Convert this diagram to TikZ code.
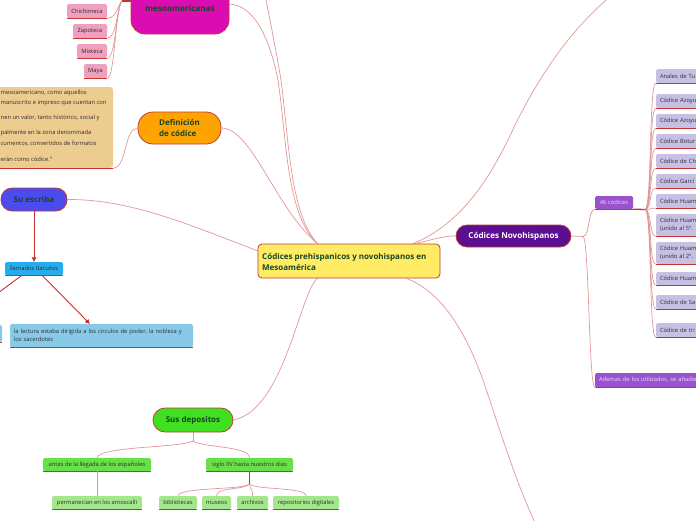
\documentclass[tikz,border=0pt]{standalone}
\usepackage{fontspec}
\setmainfont{Open Sans}
\usetikzlibrary{arrows.meta,calc}
\definecolor{cmag}{RGB}{218,12,178}
\definecolor{cpink}{RGB}{238,160,190}
\definecolor{ctan}{RGB}{237,204,143}
\definecolor{corange}{RGB}{255,163,0}
\definecolor{cyellow}{RGB}{255,236,100}
\definecolor{cblue}{RGB}{76,76,238}
\definecolor{ccyan}{RGB}{38,172,236}
\definecolor{clblue}{RGB}{137,201,232}
\definecolor{cgreen}{RGB}{64,224,32}
\definecolor{cgreentwo}{RGB}{104,224,72}
\definecolor{clgreen}{RGB}{164,230,140}
\definecolor{cdpurple}{RGB}{92,14,146}
\definecolor{cmpurple}{RGB}{154,82,206}
\definecolor{clav}{RGB}{198,192,228}
\definecolor{cborder}{RGB}{190,60,60}
\definecolor{cdred}{RGB}{196,50,50}
\definecolor{clred}{RGB}{226,150,150}
\definecolor{ctgreen}{RGB}{22,70,36}
\definecolor{ctext}{RGB}{45,45,45}
\definecolor{clighttext}{RGB}{235,220,250}
\newcommand{\mmbig}{\fontsize{8}{11}\selectfont\bfseries}
\newcommand{\mmbigm}{\fontsize{8.2}{11}\selectfont\bfseries}
\newcommand{\mmsmall}{\fontsize{5.8}{8.2}\selectfont}
\tikzset{
 conn/.style={draw=clred, line width=0.7pt},
 hubl/.style={draw=cdred, line width=1.3pt},
 ul/.style={draw=cdred, line width=1pt},
 bignode/.style={draw=cborder, line width=0.8pt, rounded corners=11pt, inner sep=0pt, font=\mmbig, text=ctgreen},
 smallnode/.style={rounded corners=1.5pt, inner ysep=0pt, inner xsep=2pt, font=\mmsmall, text=ctext},
 cx/.style={smallnode, fill=clav, minimum width=88pt, text width=80pt, align=left},
 arr/.style={draw=cdred, line width=0.9pt, -{Triangle[length=4.5pt,width=4.5pt]}},
}
\begin{document}
\begin{tikzpicture}[x=1pt,y=-1pt]
\useasboundingbox (0,0) rectangle (696,520);
\clip (0,0) rectangle (696,520);

% ---------- root ----------
\node[draw=cborder, line width=0.8pt, fill=cyellow, rounded corners=4pt, minimum width=182pt, minimum height=34pt, inner sep=0pt] (root) at (349,261) {};
\node[anchor=west, font=\mmbig, text=ctgreen, align=left, inner sep=0pt] (roott) at (262,261.5) {Códices prehispanicos y novohispanos en\\Mesoamérica};

% ---------- top left: mesoamericanas ----------
\node[bignode, fill=cmag, minimum width=98pt, minimum height=52pt, rounded corners=14pt, font=\mmbigm] (meso) at (180,8) {mesoamericanas};
\node[smallnode, fill=cpink, minimum width=40pt, minimum height=14pt] (chi) at (87,11) {Chichimeca};
\node[smallnode, fill=cpink, minimum width=34pt, minimum height=14pt] (zap) at (90,31) {Zapoteca};
\node[smallnode, fill=cpink, minimum width=30pt, minimum height=14pt] (mix) at (92,51) {Mixteca};
\node[smallnode, fill=cpink, minimum width=23pt, minimum height=14pt] (may) at (95.5,71) {Maya};
\foreach \n in {chi,zap,mix,may} {\draw[ul] (\n.south west) -- (\n.south east);}
\coordinate (hm) at (122,1);
\draw[conn] (chi.south east) .. controls (117,18) and (118,4) .. (hm);
\draw[conn] (zap.south east) .. controls (117,38) and (117,6) .. (hm);
\draw[conn] (mix.south east) .. controls (116,58) and (116,8) .. (hm);
\draw[conn] (may.south east) .. controls (115,78) and (115,10) .. (hm);
\draw[hubl] (hm) -- (131,1);

% ---------- definition ----------
\node[fill=ctan, rounded corners=3pt, minimum width=133pt, minimum height=81pt, inner sep=0pt] (defbox) at (46.5,127.5) {};
\draw[ul] (defbox.south west) -- (defbox.south east);
\node[anchor=west, font=\mmsmall, text=ctext, inner sep=0pt] (d1) at (0.5,93) {mesoamericano, como aquellos};
\node[anchor=west, font=\mmsmall, text=ctext, inner sep=0pt] (d2) at (0.5,103) {manuscrito e impreso que cuentan con};
\node[anchor=west, font=\mmsmall, text=ctext, inner sep=0pt] (d3) at (0.5,118) {nen un valor, tanto histórico, social y};
\node[anchor=west, font=\mmsmall, text=ctext, inner sep=0pt] (d4) at (0.5,133) {palmente en la zona denominada};
\node[anchor=west, font=\mmsmall, text=ctext, inner sep=0pt] (d5) at (0.5,143.5) {cumentos, convertidos de formatos};
\node[anchor=west, font=\mmsmall, text=ctext, inner sep=0pt] (d6) at (0.5,159) {erán como códice."};
\node[bignode, fill=corange, minimum width=83pt, minimum height=32pt, rounded corners=15pt, align=left] (defn) at (179.5,128) {Definición\\de códice};
\draw[conn] (defbox.south east) .. controls (127,168) and (124,128) .. (defn.west);

% ---------- Su escriba ----------
\node[bignode, fill=cblue, minimum width=66pt, minimum height=23pt] (esc) at (34,199.5) {Su escriba};
\node[smallnode, fill=ccyan, minimum width=58pt, minimum height=13pt] (tla) at (34,268.5) {llamados tlacuilos};
\draw[ul] (tla.south west) -- (tla.south east);
\node[smallnode, fill=clblue, minimum width=183pt, minimum height=23pt, text width=175pt, align=left] (lect) at (101.5,335.5) {la lectura estaba dirigida a los circulos de poder, la nobleza y\\los sacerdotes};
\draw[ul] (lect.south west) -- (lect.south east);
\node[smallnode, fill=clblue, minimum width=30pt, minimum height=17pt] (offb) at (-13,333.5) {};
\draw[ul] (offb.south west) -- (offb.south east);
\coordinate (offl) at (-45,325);
\draw[arr] (esc.south) -- (tla.north);
\draw[arr] ($(tla.south)+(8,0)$) -- ($(lect.north west)+(80,0)$);
\draw[arr] ($(tla.south)+(-12,0)$) -- (offl);

% ---------- Sus depositos ----------
\node[bignode, fill=cgreen, minimum width=80pt, minimum height=24pt, rounded corners=12pt] (dep) at (193,420) {Sus depositos};
\node[smallnode, fill=cgreentwo, minimum width=108pt, minimum height=13pt] (antes) at (97,464.5) {antes de la llegada de los españoles};
\node[smallnode, fill=cgreentwo, minimum width=87pt, minimum height=13pt] (siglo) at (249.5,464.5) {siglo XV hasta nuestros dias};
\node[smallnode, fill=clgreen, minimum width=90pt, minimum height=13pt] (perm) at (97,502.5) {permanecian en los amoxcalli};
\node[smallnode, fill=clgreen, minimum width=38pt, minimum height=13pt] (bib) at (178,502.5) {bibliotecas};
\node[smallnode, fill=clgreen, minimum width=29pt, minimum height=13pt] (mus) at (216.5,502.5) {museos};
\node[smallnode, fill=clgreen, minimum width=31pt, minimum height=13pt] (arc) at (252.5,502.5) {archivos};
\node[smallnode, fill=clgreen, minimum width=66pt, minimum height=13pt] (rep) at (306,502.5) {repositorios digitales};
\foreach \n in {antes,siglo,perm,bib,mus,arc,rep} {\draw[ul] (\n.south west) -- (\n.south east);}
\coordinate (hd) at (193,441);
\draw[conn] (dep.south) -- (hd);
\draw[conn] (hd) .. controls (180,448) and (100,446) .. (antes.north);
\draw[conn] (hd) .. controls (205,448) and (249.5,446) .. (siglo.north);
\draw[conn] (antes.south) -- (perm.north);
\coordinate (hs) at (249.5,484);
\draw[hubl] (siglo.south) -- (hs);
\draw[conn] (hs) .. controls (245,490) and (178,487) .. (bib.north);
\draw[conn] (hs) .. controls (245,490) and (216.5,487) .. (mus.north);
\draw[conn] (hs) .. controls (250,490) and (252.5,488) .. (arc.north);
\draw[conn] (hs) .. controls (255,490) and (306,487) .. (rep.north);

% ---------- Novohispanos ----------
\node[bignode, fill=cdpurple, minimum width=115pt, minimum height=22pt, text=white, font=\fontsize{8.1}{10}\selectfont\bfseries] (nov) at (513.5,236) {Códices Novohispanos};
\node[smallnode, fill=cmpurple, minimum width=38pt, minimum height=13pt, text=clighttext] (n46) at (614,202.5) {46 códices};
\node[smallnode, fill=cmpurple, minimum width=130pt, minimum height=14pt, text width=122pt, align=left, text=clighttext] (ad) at (660,380) {Ademas de los utilizados, se añadie};
\draw[ul] (n46.south west) -- (n46.south east);
\draw[ul] (ad.south west) -- (ad.south east);
\coordinate (nh) at (583,236.5);
\draw[conn] (nov.east) -- (nh);
\draw[conn] (nh) .. controls +(7,0) and +(-7,0) .. (n46.south west);
\draw[conn] (nh) .. controls +(6,0) and +(-6,0) .. (ad.south west);

\node[cx, minimum height=14pt] (c1) at (700,76) {Anales de Tu};
\node[cx, minimum height=14pt] (c2) at (700,101) {Códice Azoyu};
\node[cx, minimum height=14pt] (c3) at (700,121) {Códice Azoyu};
\node[cx, minimum height=14pt] (c4) at (700,141) {Códice Botur};
\node[cx, minimum height=14pt] (c5) at (700,161) {Códice de Ch};
\node[cx, minimum height=14pt] (c6) at (700,181) {Códice Garcí};
\node[cx, minimum height=14pt] (c7) at (700,201) {Códice Huam};
\node[cx, minimum height=22pt] (c8) at (700,225) {Códice Huam\\(unido al 5º. I};
\node[cx, minimum height=22pt] (c9) at (700,253) {Códice Huam\\(unido al 2º. I};
\node[cx, minimum height=13pt] (c10) at (700,278.5) {Códice Huam};
\node[cx, minimum height=14pt] (c11) at (700,302) {Códice de Sa};
\node[cx, minimum height=14pt] (c12) at (700,330) {Códice de tri};
\coordinate (hc) at (645,209.5);
\draw[hubl] (n46.south east) -- (hc);
\foreach \n in {c1,c2,c3,c4,c5,c6,c7,c8,c9,c10,c11,c12} {
  \draw[ul] (\n.south west) -- (\n.south east);
  \draw[conn] (hc) .. controls +(7,0) and +(-7,0) .. (\n.south west);
}

% ---------- root connectors ----------
\coordinate (rt) at (318,244);
\coordinate (topa) at (265,-5);
\coordinate (topb) at (612,-5);
\coordinate (botc) at (536,525);
\draw[conn] (229,4) .. controls (255,5) and (270,40) .. (278,80) .. controls (287,140) and (286,215) .. (rt);
\draw[conn] (topa) .. controls (270,20) and (276,50) .. (281,80) .. controls (289,140) and (290,215) .. (rt);
\draw[conn] (defn.east) .. controls (252,128) and (276,210) .. (rt);
\draw[conn] (topb) .. controls (570,30) and (540,75) .. (515,125) .. controls (490,180) and (460,225) .. (412,244);
\draw[conn] (nov.west) .. controls (440,236) and (430,241) .. (412,244);
\draw[conn] (esc.east) .. controls (130,199) and (190,225) .. (258,251);
\draw[conn] (dep.east) .. controls (285,410) and (300,290) .. (318,278);
\draw[conn] (405,278) .. controls (440,290) and (465,330) .. (483,380) .. controls (500,430) and (515,480) .. (botc);
\end{tikzpicture}
\end{document}
